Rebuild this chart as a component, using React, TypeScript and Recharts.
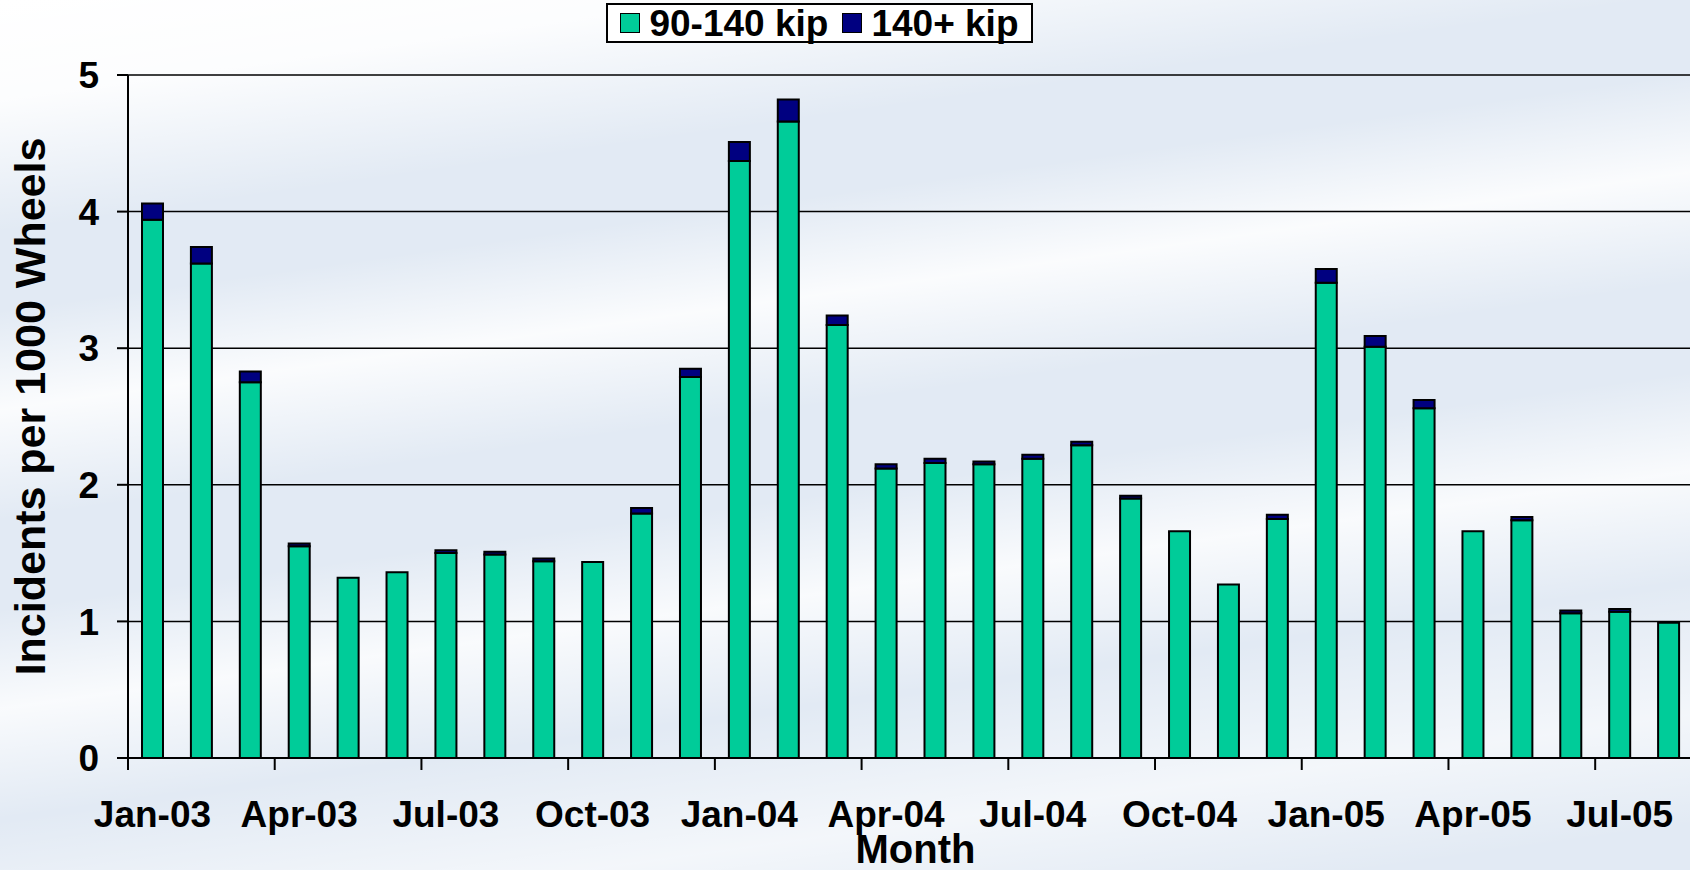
import React from "react";
import { Bar, BarChart, CartesianGrid, Label, XAxis, YAxis } from "recharts";

const months = [
  "Jan-03", "Feb-03", "Mar-03", "Apr-03", "May-03", "Jun-03", "Jul-03", "Aug-03",
  "Sep-03", "Oct-03", "Nov-03", "Dec-03", "Jan-04", "Feb-04", "Mar-04", "Apr-04",
  "May-04", "Jun-04", "Jul-04", "Aug-04", "Sep-04", "Oct-04", "Nov-04", "Dec-04",
  "Jan-05", "Feb-05", "Mar-05", "Apr-05", "May-05", "Jun-05", "Jul-05", "Aug-05",
];

// 90-140 kip
const mid = [
  3.94, 3.62, 2.75, 1.55, 1.32, 1.36, 1.5, 1.49, 1.44, 1.435, 1.79, 2.79, 4.37, 4.66,
  3.17, 2.12, 2.16, 2.15, 2.19, 2.29, 1.9, 1.66, 1.27, 1.75, 3.48, 3.01, 2.56, 1.66,
  1.74, 1.06, 1.07, 0.99,
];

// 140+ kip
const heavy = [
  0.12, 0.12, 0.08, 0.02, 0, 0, 0.02, 0.02, 0.02, 0, 0.04, 0.06, 0.14, 0.16, 0.07,
  0.03, 0.03, 0.02, 0.03, 0.025, 0.02, 0, 0, 0.03, 0.1, 0.08, 0.06, 0, 0.025, 0.02,
  0.02, 0,
];

const yTicks = [0, 1, 2, 3, 4, 5];

const data = months.map((month, i) => ({ month, mid: mid[i], heavy: heavy[i] }));

const FONT = '"Liberation Sans", Arial, Helvetica, sans-serif';
const GREEN = "#00cc99";
const NAVY = "#000080";

const CHART_W = 1700;
const CHART_H = 870;
const LEFT = 128;
const RIGHT = 7;

function MonthTick(props: any) {
  const { x, y, payload } = props;
  const idx = payload?.index ?? 0;
  if (idx % 3 !== 0) return null;
  const half =
    payload?.offset ?? (CHART_W - LEFT - RIGHT) / months.length / 2;
  return (
    <g>
      <line x1={x - half} x2={x - half} y1={y} y2={y + 12} stroke="#000" strokeWidth={2} />
      <text
        x={x}
        y={y + 69}
        textAnchor="middle"
        fontFamily={FONT}
        fontWeight="bold"
        fontSize={37}
        fill="#000"
      >
        {payload.value}
      </text>
    </g>
  );
}

function YTitle(props: any) {
  const vb = props.viewBox || { x: 0, y: 75, width: 128, height: 683 };
  const cx = vb.x + 45;
  const cy = vb.y + vb.height / 2 - 10;
  return (
    <text
      x={cx}
      y={cy}
      transform={`rotate(-90, ${cx}, ${cy})`}
      textAnchor="middle"
      fontFamily={FONT}
      fontWeight="bold"
      fontSize={43}
      fill="#000"
    >
      Incidents per 1000 Wheels
    </text>
  );
}

function XTitle(props: any) {
  const vb = props.viewBox || { x: 128, y: 758, width: 1565, height: 112 };
  return (
    <text
      x={vb.x + vb.width / 2 + 5}
      y={vb.y + 105}
      textAnchor="middle"
      fontFamily={FONT}
      fontWeight="bold"
      fontSize={40}
      fill="#000"
    >
      Month
    </text>
  );
}

function LegendBox() {
  const item = (color: string, text: string) => (
    <span style={{ display: "flex", alignItems: "center" }}>
      <span
        style={{
          display: "inline-block",
          width: 18,
          height: 18,
          background: color,
          border: "1.5px solid #000",
          marginRight: 9,
        }}
      />
      <span>{text}</span>
    </span>
  );
  return (
    <div
      style={{
        position: "absolute",
        left: 606,
        top: 3,
        width: 427,
        height: 40,
        boxSizing: "border-box",
        border: "2px solid #000",
        background: "#fff",
        display: "flex",
        alignItems: "center",
        justifyContent: "center",
        gap: 14,
        fontFamily: FONT,
        fontWeight: "bold",
        fontSize: 37,
        lineHeight: 1,
        color: "#000",
      }}
    >
      {item(GREEN, "90-140 kip")}
      {item(NAVY, "140+ kip")}
    </div>
  );
}

export default function App() {
  return (
    <div
      style={{
        position: "fixed",
        left: 0,
        top: 0,
        width: 1690,
        height: 870,
        overflow: "hidden",
        background:
          "linear-gradient(172deg, rgba(255,255,255,1) 0%, rgba(255,255,255,0.9) 9%, rgba(255,255,255,0) 21%, rgba(255,255,255,0) 28%, rgba(255,255,255,0.85) 37%, rgba(255,255,255,0) 47%, rgba(255,255,255,0) 55%, rgba(255,255,255,0.8) 64%, rgba(255,255,255,0) 74%, rgba(255,255,255,0.6) 86%, rgba(255,255,255,0) 96%), #e2eaf4",
      }}
    >
      <BarChart
        width={CHART_W}
        height={CHART_H}
        data={data}
        margin={{ top: 75, right: RIGHT, bottom: 0, left: 0 }}
        barSize={21}
      >
        <CartesianGrid vertical={false} stroke="#000" strokeWidth={1.5} />
        <XAxis
          dataKey="month"
          height={112}
          interval={0}
          tickLine={false}
          tickSize={0}
          tickMargin={0}
          axisLine={{ stroke: "#000", strokeWidth: 2 }}
          tick={<MonthTick />}
        >
          <Label content={<XTitle />} />
        </XAxis>
        <YAxis
          width={LEFT}
          domain={[0, 5]}
          ticks={yTicks}
          interval={0}
          tickSize={11}
          tickMargin={18}
          axisLine={{ stroke: "#000", strokeWidth: 2 }}
          tickLine={{ stroke: "#000", strokeWidth: 2 }}
          tick={{ fill: "#000", fontSize: 37, fontWeight: "bold", fontFamily: FONT }}
        >
          <Label content={<YTitle />} />
        </YAxis>
        <Bar
          dataKey="mid"
          name="90-140 kip"
          stackId="a"
          fill={GREEN}
          stroke="#000"
          strokeWidth={2}
          isAnimationActive={false}
        />
        <Bar
          dataKey="heavy"
          name="140+ kip"
          stackId="a"
          fill={NAVY}
          stroke="#000"
          strokeWidth={2}
          isAnimationActive={false}
        />
      </BarChart>
      <LegendBox />
    </div>
  );
}
